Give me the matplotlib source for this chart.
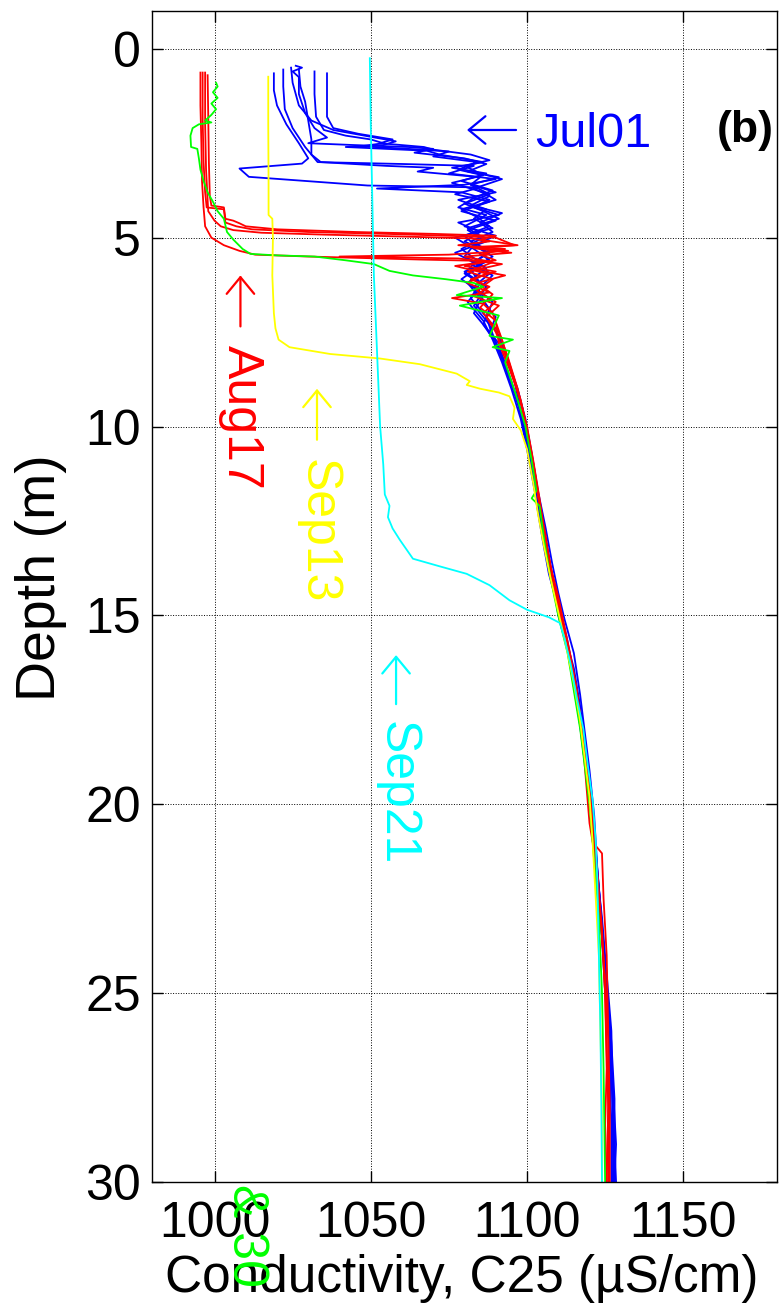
import matplotlib
matplotlib.use("Agg")
import matplotlib.pyplot as plt

plt.rcParams['font.family'] = ['Liberation Sans', 'DejaVu Sans']

# each cast: (conductivity C25 in uS/cm, depth in m)
jul01_a = [(1019, 0.65), (1019, 1.1), (1020, 1.5), (1023, 2.0), (1027, 2.5), (1030, 2.9), (1028, 3.04),
           (1008, 3.17), (1011, 3.39), (1049, 3.62), (1085, 3.67), (1077, 3.85), (1088, 4.05), (1079, 4.3),
           (1090, 4.55), (1081, 4.8), (1087, 5.1), (1077, 5.4), (1085, 5.75), (1079, 6.1), (1086, 6.5),
           (1083, 7.0), (1089, 7.6), (1092, 8.2), (1095, 8.9), (1098, 9.6), (1100, 10.4), (1102, 11.3),
           (1104, 12.2), (1105.5, 13.1), (1108, 14.0), (1111, 15.0), (1113, 15.8), (1115.5, 16.8),
           (1117.5, 17.8), (1119, 18.8), (1121, 20.0), (1122, 21.5), (1124, 23.0), (1125.5, 24.5),
           (1127, 26), (1127.5, 28), (1128, 30)]
jul01_b = [(1022, 0.55), (1022, 1.0), (1022.5, 1.6), (1025, 2.1), (1029, 2.6), (1033, 3.0), (1060, 3.05),
           (1083, 3.1), (1075, 3.3), (1090, 3.45), (1080, 3.6), (1052, 3.7), (1079, 3.8), (1088, 4.0),
           (1083, 4.2), (1091, 4.4), (1078, 4.6), (1085, 4.85), (1080, 5.1), (1088, 5.4), (1082, 5.7),
           (1089, 6.0), (1084, 6.4), (1088, 6.9), (1086, 7.3), (1091, 7.9), (1094, 8.6), (1097, 9.3),
           (1099, 10.1), (1101.5, 11.0), (1103, 12.0), (1105, 13.0), (1107, 13.9), (1110, 14.8),
           (1112.5, 15.7), (1114.5, 16.6), (1116.5, 17.6), (1118, 18.6), (1120, 19.7), (1121.5, 21.0),
           (1123, 22.5), (1124.5, 24.0), (1126, 25.5), (1126.5, 27), (1127, 28.5), (1127, 30)]
jul01_c = [(1024.5, 0.5), (1025, 0.9), (1027, 1.5), (1031, 1.9), (1038, 2.15), (1048, 2.3), (1058, 2.45),
           (1054, 2.55), (1042, 2.6), (1068, 2.7), (1072, 2.8), (1086, 3.0), (1076, 3.15), (1087, 3.3),
           (1079, 3.5), (1089, 3.75), (1083, 3.95), (1078, 4.2), (1087, 4.4), (1080, 4.7), (1090, 4.95),
           (1083, 5.2), (1080, 5.5), (1087, 5.8), (1081, 6.2), (1085, 6.6), (1090, 7.1), (1088, 7.5),
           (1093, 8.0), (1096, 8.8), (1098, 9.6), (1100.5, 10.5), (1102.5, 11.5), (1104.5, 12.5),
           (1106.5, 13.5), (1109, 14.4), (1111, 15.2), (1114, 16.2), (1116, 17.2), (1118, 18.2),
           (1119.5, 19.3), (1121, 20.5), (1122.5, 22), (1124, 23.5), (1125, 25), (1126.5, 26.5),
           (1127.5, 28), (1128, 30)]
jul01_d = [(1026, 0.45), (1028, 0.5), (1025, 0.6), (1027, 0.75), (1027, 1.2), (1029, 1.7), (1032, 2.1),
           (1036, 2.35), (1030, 2.5), (1045, 2.55), (1062, 2.6), (1070, 2.65), (1064, 2.75), (1080, 2.9),
           (1087, 3.05), (1081, 3.25), (1091, 3.4), (1082, 3.6), (1088, 3.85), (1080, 4.1), (1086, 4.3),
           (1091, 4.5), (1081, 4.75), (1086, 5.0), (1079, 5.3), (1084, 5.6), (1080, 5.95), (1087, 6.3),
           (1083, 6.8), (1088, 7.3), (1090, 7.8), (1093, 8.4), (1096, 9.1), (1099, 9.9), (1101, 10.8),
           (1103, 11.8), (1105, 12.8), (1107, 13.7), (1109.5, 14.6), (1112, 15.5), (1115, 16.4),
           (1117, 17.4), (1118.5, 18.4), (1120, 19.5), (1121.5, 20.8), (1123, 22.2), (1124.5, 23.8),
           (1126, 25.3), (1127, 26.8), (1127.5, 28.3), (1127.5, 30)]
jul01_e = [(1032, 0.6), (1032, 1.2), (1032.5, 1.8), (1035, 2.15), (1042, 2.3), (1050, 2.4), (1054, 2.5),
           (1047, 2.58), (1062, 2.65), (1075, 2.72), (1070, 2.85), (1084, 3.0), (1078, 3.2), (1086, 3.35),
           (1076, 3.55), (1086, 3.8), (1090, 4.0), (1079, 4.25), (1084, 4.45), (1088, 4.7), (1080, 4.95),
           (1084, 5.25), (1089, 5.5), (1082, 5.85), (1085, 6.2), (1082, 6.6), (1087, 7.1), (1089, 7.6),
           (1092, 8.1), (1095, 8.8), (1097.5, 9.5), (1100, 10.3), (1102, 11.2), (1104, 12.1), (1106, 13.0),
           (1108, 13.9), (1110.5, 14.8), (1113, 15.7), (1115.5, 16.8), (1117.5, 17.8), (1119, 18.8),
           (1120.5, 19.9), (1122, 21.2), (1123.5, 22.8), (1125, 24.4), (1126.5, 26), (1127.5, 27.5),
           (1128.5, 29), (1128, 30)]
jul01_f = [(1036, 0.65), (1036, 1.2), (1036, 1.8), (1038, 2.1), (1046, 2.25), (1057, 2.4), (1053, 2.5),
           (1067, 2.6), (1070, 2.67), (1082, 2.8), (1088, 2.95), (1080, 3.1), (1085, 3.3), (1092, 3.45),
           (1083, 3.7), (1088, 3.9), (1082, 4.15), (1092, 4.35), (1085, 4.6), (1089, 4.85), (1082, 5.1),
           (1088, 5.35), (1084, 5.6), (1088, 5.95), (1083, 6.3), (1089, 6.7), (1087, 7.1), (1091, 7.6),
           (1094, 8.3), (1097, 9.0), (1099.5, 9.8), (1101.5, 10.7), (1103.5, 11.7), (1106, 12.7),
           (1108, 13.6), (1110, 14.4), (1112, 15.1), (1115, 16.0), (1117, 17.1), (1118.5, 18.1),
           (1120, 19.1), (1121.5, 20.3), (1122.5, 21.7), (1124, 23.2), (1125.5, 24.8), (1127, 26.3),
           (1128, 27.8), (1128, 29.3), (1127.5, 30)]
jul01_g = [(1027, 0.55), (1027.5, 1.0), (1029, 1.4), (1030, 1.9), (1031, 2.4), (1031, 2.8), (1034, 3.0),
           (1055, 3.1), (1070, 3.15), (1065, 3.25), (1085, 3.4), (1082, 3.6), (1090, 3.8), (1078, 4.0),
           (1087, 4.25), (1083, 4.5), (1089, 4.75), (1077, 5.0), (1083, 5.3), (1088, 5.6), (1080, 5.9),
           (1086, 6.25), (1081, 6.7), (1086, 7.2), (1089, 7.7), (1092, 8.3), (1095, 9.0), (1098, 9.8),
           (1100, 10.6), (1102, 11.5), (1104, 12.4), (1106, 13.3), (1108.5, 14.2), (1110, 15.0),
           (1113, 15.9), (1115, 16.9), (1117, 17.9), (1119, 18.9), (1120.5, 20.1), (1122, 21.5),
           (1123.5, 23), (1125, 24.6), (1126.5, 26.1), (1127.5, 27.6), (1128, 29), (1128.5, 30)]

aug17_a = [(995.5, 0.63), (995.5, 1.5), (995.8, 2.5), (996, 3.5), (996.5, 4.2), (997, 4.7), (999, 5.0),
           (1003, 5.2), (1008, 5.35), (1013, 5.45), (1030, 5.5), (1066, 5.58), (1088, 5.62), (1080, 5.75),
           (1090, 5.9), (1082, 6.1), (1088, 6.3), (1083, 6.55), (1091, 6.8), (1087, 7.1), (1090, 7.5),
           (1093, 8.1), (1096, 8.8), (1098.5, 9.5), (1100.5, 10.3), (1102.5, 11.2), (1104, 12.1),
           (1106, 13.0), (1108, 13.9), (1110.5, 14.8), (1113, 15.8), (1115.5, 16.8), (1117, 17.8),
           (1118.5, 18.8), (1120, 19.8), (1121, 20.7), (1122.5, 21.8), (1124, 23.3), (1125, 25),
           (1125.5, 26.5), (1126, 28), (1125.5, 30)]
aug17_b = [(996.2, 0.63), (996.2, 1.8), (996.5, 3.0), (997, 3.8), (997.5, 4.2), (1003, 4.25), (1003.5, 4.6),
           (1007, 4.7), (1012, 4.78), (1030, 4.85), (1055, 4.9), (1075, 4.95), (1090, 5.0), (1096, 5.2),
           (1082, 5.25), (1094, 5.35), (1075, 5.45), (1040, 5.5), (1078, 5.55), (1092, 5.7), (1081, 5.9),
           (1089, 6.1), (1084, 6.4), (1090, 6.7), (1086, 7.0), (1091, 7.5), (1094, 8.2), (1097, 9.0),
           (1099.5, 9.9), (1101.5, 10.8), (1103.5, 11.8), (1105.5, 12.8), (1107.5, 13.7), (1109.5, 14.5),
           (1112, 15.4), (1114.5, 16.4), (1116.5, 17.5), (1118, 18.5), (1119, 19.5), (1120, 20.5),
           (1121, 21.0), (1124, 21.3), (1124.5, 22.5), (1125.5, 24), (1126, 26), (1126, 28), (1126, 30)]
aug17_c = [(997, 0.63), (997, 2.0), (997.3, 3.2), (997.8, 4.0), (998, 4.3), (1000, 4.55), (1002, 4.7),
           (1006, 4.8), (1015, 4.87), (1035, 4.92), (1060, 4.97), (1082, 5.02), (1088, 5.1), (1078, 5.2),
           (1093, 5.3), (1085, 5.45), (1090, 5.6), (1077, 5.75), (1087, 5.95), (1081, 6.2), (1088, 6.45),
           (1076, 6.6), (1086, 6.75), (1089, 7.0), (1092, 7.7), (1095, 8.5), (1098, 9.3), (1100, 10.1),
           (1102, 11.0), (1104, 12.0), (1106, 12.9), (1107.5, 13.8), (1110, 14.7), (1112.5, 15.6),
           (1115, 16.6), (1117, 17.6), (1118.5, 18.6), (1120, 19.6), (1121.5, 20.8), (1122.5, 22.0),
           (1124, 23.5), (1125, 25), (1125.5, 27), (1125, 28.5), (1125.5, 30)]
aug17_d = [(997.8, 0.7), (998, 1.8), (998.2, 3.0), (998.5, 3.9), (999, 4.15), (1003, 4.2), (1003.5, 4.5),
           (1006, 4.55), (1008, 4.62), (1010, 4.7), (1020, 4.78), (1045, 4.85), (1070, 4.9), (1090, 4.95),
           (1085, 5.05), (1097, 5.2), (1083, 5.28), (1095, 5.4), (1080, 5.5), (1089, 5.65), (1083, 5.85),
           (1093, 6.0), (1084, 6.2), (1089, 6.5), (1085, 6.85), (1090, 7.2), (1091, 7.8), (1094.5, 8.5),
           (1097.5, 9.2), (1100, 10.0), (1102, 10.9), (1104, 11.9), (1105.5, 12.8), (1107.5, 13.7),
           (1110, 14.5), (1112, 15.3), (1114, 16.1), (1116, 17.0), (1117.5, 18.0), (1119, 19.0),
           (1120.5, 20.2), (1122, 21.5), (1123.5, 23), (1125, 24.6), (1126, 26.2), (1126.5, 28),
           (1126.5, 30)]

aug30 = [(1000.5, 0.9), (1001, 1.0), (999.5, 1.15), (1001, 1.3), (999, 1.45), (1000.5, 1.6), (999, 1.75),
         (997, 1.9), (999, 1.95), (995, 2.0), (993, 2.1), (992.3, 2.3), (992.5, 2.6), (994.5, 2.65),
         (995, 2.9), (995.5, 3.2), (996.5, 3.5), (997.8, 3.8), (999.5, 4.05), (1001, 4.3), (1003, 4.5),
         (1004, 4.85), (1006, 5.05), (1009, 5.3), (1011.5, 5.43), (1020, 5.47), (1032, 5.5), (1042, 5.6),
         (1051, 5.7), (1056, 5.88), (1063.5, 6.0), (1074, 6.1), (1083, 6.2), (1086, 6.3), (1077.5, 6.52),
         (1092, 6.6), (1078.5, 6.8), (1091, 7.06), (1088, 7.6), (1095.5, 7.7), (1089, 7.9), (1094.4, 8.0),
         (1093, 8.3), (1095, 8.8), (1097, 9.3), (1099.5, 10.0), (1101.5, 10.9), (1103, 11.7),
         (1101.5, 11.9), (1104, 12.1), (1105.5, 13.0), (1107.5, 14.0), (1110, 15.0), (1113, 16.0),
         (1115, 17.0), (1117, 18.0), (1118.5, 19.0), (1120, 20.0), (1121.5, 21.5), (1123, 23),
         (1124, 25), (1124.5, 27), (1125, 30)]

sep13 = [(1017.2, 0.74), (1017.2, 2.0), (1017.3, 3.5), (1017.3, 4.4), (1018.5, 4.5), (1018.7, 5.0),
         (1018.5, 6.0), (1019, 7.0), (1019.5, 7.4), (1020.5, 7.7), (1024, 7.9), (1037, 8.08), (1053, 8.2),
         (1065.7, 8.35), (1077.5, 8.6), (1081.7, 8.8), (1080.7, 8.9), (1085, 9.0), (1091, 9.1),
         (1094.4, 9.2), (1096, 9.5), (1095.5, 9.8), (1098, 10.1), (1100, 10.6), (1102, 11.5),
         (1103.5, 12.3), (1105.5, 13.2), (1107.5, 14.0), (1110, 14.9), (1112.5, 15.8), (1115, 16.8),
         (1117, 17.8), (1118.5, 18.8), (1120, 19.8), (1121, 21), (1122, 22.5), (1123, 24), (1123.5, 26),
         (1124, 28), (1124, 30)]

sep21 = [(1049.7, 0.25), (1050, 2), (1050.5, 4), (1051, 6), (1052, 8), (1053, 10), (1054, 11),
         (1054.5, 11.8), (1056, 12.1), (1055.5, 12.4), (1057, 12.7), (1059.3, 13.0), (1063.5, 13.5),
         (1072, 13.7), (1080.7, 13.9), (1088, 14.2), (1094.4, 14.6), (1100, 14.85), (1107, 15.05),
         (1110.5, 15.2), (1112, 15.6), (1114, 16.3), (1116, 17.2), (1118, 18), (1119.5, 19), (1121, 19.9),
         (1122, 21), (1122.5, 22), (1123, 24), (1123.5, 26), (1123.8, 28), (1124, 30)]

groups = [
    ([jul01_a, jul01_b, jul01_c, jul01_d, jul01_e, jul01_f, jul01_g], (0, 0, 1)),
    ([aug17_a, aug17_b, aug17_c, aug17_d], (1, 0, 0)),
    ([aug30], (0, 1, 0)),
    ([sep13], (1, 1, 0)),
    ([sep21], (0, 1, 1)),
]

fig = plt.figure(figsize=(7.8, 13.08), dpi=100)
ax = fig.add_axes([152 / 780, 126 / 1308, 625 / 780, 1171 / 1308])

for casts, col in groups:
    for cast in casts:
        c, d = zip(*cast)
        ax.plot(c, d, color=col, lw=1.3)

ax.set_xlim(980, 1180)
ax.set_ylim(30, -1)
ax.set_xticks([1000, 1050, 1100, 1150])
ax.set_yticks([0, 5, 10, 15, 20, 25, 30])
ax.grid(True, linestyle=':', color='k', linewidth=0.7)
ax.tick_params(direction='in', top=True, right=True, length=8, width=1, labelsize=36)
ax.tick_params(axis='x', pad=14)
ax.tick_params(axis='y', pad=8)
for s in ax.spines.values():
    s.set_linewidth(1.0)


def label_arrow(tip, tail, col):
    ax.annotate('', xy=tip, xytext=tail,
                arrowprops=dict(arrowstyle='->,head_length=0.4,head_width=0.33',
                                color=col, lw=1.6, mutation_scale=30,
                                shrinkA=0, shrinkB=0))


label_arrow((1080.8, 2.15), (1096.5, 2.15), (0, 0, 1))
ax.text(1102.5, 2.6, 'Jul01', color=(0, 0, 1), fontsize=35, ha='left', va='baseline')
ax.text(1160.8, 2.47, '(b)', color='k', fontsize=32, fontweight='bold', ha='left', va='baseline')

label_arrow((1008.3, 6.0), (1008.3, 7.35), (1, 0, 0))
ax.text(1008.5, 9.75, 'Aug17', color=(1, 0, 0), fontsize=36, rotation=-90, ha='center', va='center')
label_arrow((1032.8, 9.0), (1032.8, 10.35), (1, 1, 0))
ax.text(1033.1, 12.77, 'Sep13', color=(1, 1, 0), fontsize=36, rotation=-90, ha='center', va='center')
label_arrow((1058.1, 16.05), (1058.1, 17.35), (0, 1, 1))
ax.text(1058.4, 19.7, 'Sep21', color=(0, 1, 1), fontsize=36, rotation=-90, ha='center', va='center')

fig.text(462 / 780, 1 - 1292 / 1308, 'Conductivity, C25 (\u00b5S/cm)', fontsize=37,
         ha='center', va='baseline')
fig.text(41 / 780, 1 - 578 / 1308, 'Depth (m)', fontsize=40, rotation=90, ha='center', va='center')
# green date label sits on top of the tick labels, as in the original
fig.text(246 / 780, 1 - 1236 / 1308, '& 30', color=(0, 1, 0), fontsize=36, rotation=-90,
         ha='center', va='center', zorder=10)

fig.savefig('out.png', dpi=100)
